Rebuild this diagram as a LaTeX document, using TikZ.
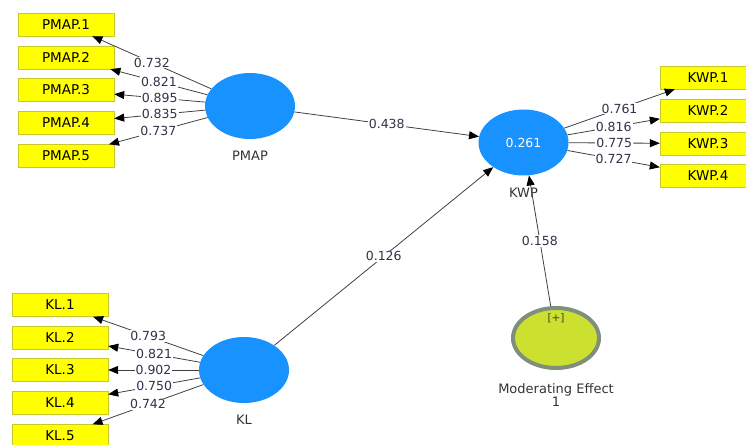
\documentclass[tikz,border=0pt]{standalone}
\usepackage{fontspec}
\setmainfont{DejaVu Sans}
\usetikzlibrary{positioning,shapes.geometric,arrows.meta}
\definecolor{lvblue}{RGB}{24,146,255}
\definecolor{mvyellow}{RGB}{255,255,0}
\definecolor{mvborder}{RGB}{200,200,40}
\definecolor{modfill}{RGB}{204,224,48}
\definecolor{modring}{RGB}{128,142,124}
\definecolor{coeftext}{RGB}{50,50,74}

\begin{document}
\begin{tikzpicture}[x=1pt,y=-1pt,
	latent/.style={ellipse,fill=lvblue,minimum width=90pt,minimum height=66pt,inner sep=0pt,text=white,font=\fontsize{12.5}{14}\selectfont},
	indicator/.style={rectangle,draw=mvborder,fill=mvyellow,minimum width=96pt,minimum height=23pt,inner sep=0pt,font=\fontsize{13.5}{15}\selectfont},
	caption/.style={inner sep=0pt,text=black!80,align=center,font=\fontsize{13}{13.5}\selectfont},
	link/.style={draw=black!75,line width=0.8pt,-{Triangle[length=10pt,width=8pt,color=black]}},
	coef/.style={midway,fill=white,inner sep=1pt,text=coeftext,font=\fontsize{12.5}{14}\selectfont}]
	\useasboundingbox (0,0) rectangle (746,444);
	\clip (0,0) rectangle (746,444);

	\node[latent] (pmap) at (250,106) {};
	\node[latent] (kwp) at (523.5,142.5) {0.261};
	\node[latent] (kl) at (244,370) {};
	\node[ellipse,draw=modring,line width=4pt,fill=modfill,minimum width=86pt,minimum height=60pt] (mod) at (556,338) {};
	\node[inner sep=0pt,text=black!75,font=\fontsize{10.5}{12}\selectfont] (modsign) at ([yshift=-12pt]mod.north) {[+]};

	\node[caption,below=12pt of pmap] (pmaplbl) {PMAP};
	\node[caption,below=12pt of kwp] (kwplbl) {KWP};
	\node[caption,below=12pt of kl] (kllbl) {KL};
	\node[caption,below=13pt of mod] (modlbl) {Moderating Effect\\1};

	\node[indicator] (pmap1) at (66,24.5) {PMAP.1};
	\node[indicator] (pmap2) at (66,57.5) {PMAP.2};
	\node[indicator] (pmap3) at (66,90) {PMAP.3};
	\node[indicator] (pmap4) at (66,123) {PMAP.4};
	\node[indicator] (pmap5) at (66,156) {PMAP.5};

	\node[indicator] (kl1) at (60,305) {KL.1};
	\node[indicator] (kl2) at (60,337.5) {KL.2};
	\node[indicator] (kl3) at (60,370) {KL.3};
	\node[indicator] (kl4) at (60,403) {KL.4};
	\node[indicator] (kl5) at (60,436) {KL.5};

	\node[indicator] (kwp1) at (708,77.5) {KWP.1};
	\node[indicator] (kwp2) at (708,110.5) {KWP.2};
	\node[indicator] (kwp3) at (708,143.5) {KWP.3};
	\node[indicator] (kwp4) at (708,176) {KWP.4};

	\draw[link] (pmap) -- (pmap1) node[coef] {0.732};
	\draw[link] (pmap) -- (pmap2) node[coef] {0.821};
	\draw[link] (pmap) -- (pmap3) node[coef] {0.895};
	\draw[link] (pmap) -- (pmap4) node[coef] {0.835};
	\draw[link] (pmap) -- (pmap5) node[coef] {0.737};

	\draw[link] (kl) -- (kl1) node[coef] {0.793};
	\draw[link] (kl) -- (kl2) node[coef] {0.821};
	\draw[link] (kl) -- (kl3) node[coef] {0.902};
	\draw[link] (kl) -- (kl4) node[coef] {0.750};
	\draw[link] (kl) -- (kl5) node[coef] {0.742};

	\draw[link] (kwp) -- (kwp1) node[coef] {0.761};
	\draw[link] (kwp) -- (kwp2) node[coef] {0.816};
	\draw[link] (kwp) -- (kwp3) node[coef] {0.775};
	\draw[link] (kwp) -- (kwp4) node[coef] {0.727};

	\draw[link] (pmap) -- (kwp) node[coef] {0.438};
	\draw[link] (kl) -- (kwp) node[coef] {0.126};
	\draw[link] (mod) -- (kwp) node[coef] {0.158};
\end{tikzpicture}
\end{document}
